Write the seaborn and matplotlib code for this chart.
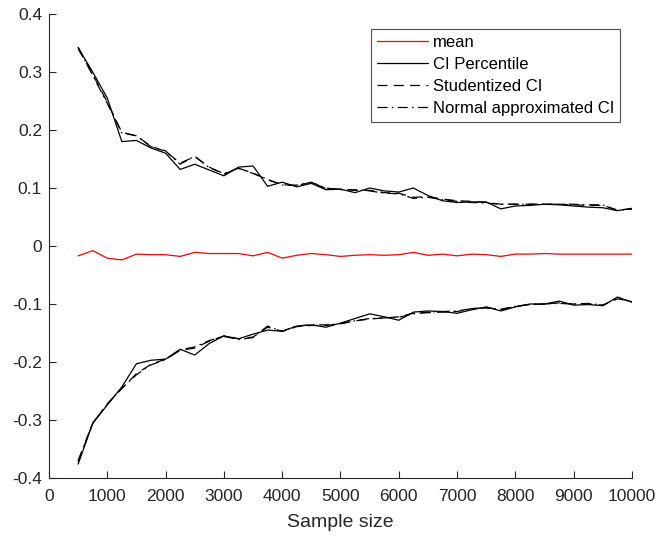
import numpy as np
import pandas as pd
import matplotlib
matplotlib.use("Agg")
import matplotlib.pyplot as plt
import seaborn as sns

sample_size = list(range(500, 10001, 250))

mean_vals = [-0.017, -0.008, -0.021, -0.024, -0.014, -0.015, -0.015, -0.018, -0.011, -0.013,
             -0.013, -0.013, -0.017, -0.011, -0.021, -0.016, -0.013, -0.015, -0.018, -0.016,
             -0.015, -0.016, -0.015, -0.011, -0.016, -0.014, -0.017, -0.014, -0.015, -0.018,
             -0.014, -0.014, -0.013, -0.014, -0.014, -0.014, -0.014, -0.014, -0.014]

pct_upper = [0.342, 0.300, 0.255, 0.180, 0.182, 0.169, 0.160, 0.132, 0.141, 0.131,
             0.121, 0.136, 0.138, 0.103, 0.110, 0.102, 0.108, 0.097, 0.098, 0.092,
             0.100, 0.095, 0.093, 0.100, 0.087, 0.078, 0.075, 0.076, 0.076, 0.064,
             0.069, 0.070, 0.072, 0.071, 0.069, 0.067, 0.066, 0.061, 0.065]
pct_lower = [-0.376, -0.306, -0.274, -0.243, -0.203, -0.197, -0.195, -0.178, -0.188, -0.168,
             -0.155, -0.160, -0.152, -0.145, -0.147, -0.138, -0.136, -0.140, -0.133, -0.125,
             -0.117, -0.122, -0.128, -0.114, -0.112, -0.113, -0.116, -0.110, -0.105, -0.112,
             -0.105, -0.100, -0.100, -0.095, -0.102, -0.101, -0.103, -0.088, -0.097]

stud_upper = [0.340, 0.296, 0.248, 0.196, 0.190, 0.172, 0.163, 0.143, 0.154, 0.136,
              0.124, 0.134, 0.126, 0.114, 0.106, 0.104, 0.110, 0.099, 0.098, 0.096,
              0.096, 0.092, 0.091, 0.084, 0.085, 0.081, 0.078, 0.077, 0.075, 0.072,
              0.072, 0.072, 0.072, 0.072, 0.071, 0.070, 0.070, 0.062, 0.064]
stud_lower = [-0.372, -0.306, -0.272, -0.246, -0.220, -0.204, -0.195, -0.180, -0.176, -0.164,
              -0.155, -0.160, -0.157, -0.140, -0.147, -0.139, -0.137, -0.137, -0.134, -0.129,
              -0.126, -0.124, -0.122, -0.116, -0.115, -0.114, -0.113, -0.108, -0.106, -0.110,
              -0.104, -0.101, -0.100, -0.098, -0.100, -0.100, -0.102, -0.091, -0.096]

norm_upper = [0.343, 0.294, 0.246, 0.195, 0.190, 0.171, 0.164, 0.141, 0.155, 0.135,
              0.125, 0.134, 0.125, 0.115, 0.105, 0.105, 0.110, 0.100, 0.097, 0.097,
              0.095, 0.091, 0.090, 0.082, 0.084, 0.080, 0.077, 0.075, 0.074, 0.072,
              0.072, 0.072, 0.072, 0.072, 0.072, 0.071, 0.071, 0.061, 0.064]
norm_lower = [-0.370, -0.305, -0.273, -0.245, -0.222, -0.205, -0.196, -0.179, -0.174, -0.163,
              -0.156, -0.161, -0.158, -0.138, -0.147, -0.138, -0.136, -0.136, -0.134, -0.129,
              -0.125, -0.124, -0.123, -0.117, -0.114, -0.113, -0.112, -0.108, -0.107, -0.109,
              -0.104, -0.101, -0.100, -0.099, -0.100, -0.099, -0.102, -0.090, -0.096]

sns.set_theme(style="white")
plt.rcParams['font.family'] = ['Liberation Sans', 'DejaVu Sans']

fig = plt.figure(figsize=(6.6, 5.39), dpi=100)
ax = fig.add_axes([0.0742, 0.1132, 0.8834, 0.8608])

lw = 0.9
dash = (0, (8, 5))
dashdot = (0, (8, 3.5, 1.2, 3.5))
x = np.array(sample_size)
sns.lineplot(x=x, y=mean_vals, ax=ax, color='#ff0000', lw=lw, label='mean')
sns.lineplot(x=x, y=pct_upper, ax=ax, color='black', lw=lw, label='CI Percentile')
sns.lineplot(x=x, y=stud_upper, ax=ax, color='black', lw=lw,
             linestyle=dash, label='Studentized CI')
sns.lineplot(x=x, y=norm_upper, ax=ax, color='black', lw=lw,
             linestyle=dashdot, label='Normal approximated CI')
sns.lineplot(x=x, y=pct_lower, ax=ax, color='black', lw=lw)
sns.lineplot(x=x, y=stud_lower, ax=ax, color='black', lw=lw, linestyle=dash)
sns.lineplot(x=x, y=norm_lower, ax=ax, color='black', lw=lw, linestyle=dashdot)

ax.set_xlim(0, 10000)
ax.set_ylim(-0.4, 0.4)
ax.set_xticks(range(0, 10001, 1000))
ax.set_yticks(np.round(np.arange(-0.4, 0.41, 0.1), 1))
ax.set_yticklabels(['-0.4', '-0.3', '-0.2', '-0.1', '0', '0.1', '0.2', '0.3', '0.4'])
ax.set_xlabel('Sample size', fontsize=14, color='#262626', labelpad=7)
ax.set_ylabel('')

for s in ['top', 'right']:
    ax.spines[s].set_visible(False)
for s in ['left', 'bottom']:
    ax.spines[s].set_color('#262626')
    ax.spines[s].set_linewidth(0.8)
ax.tick_params(direction='in', length=5, width=0.8, colors='#262626',
               labelsize=12.5, left=True, bottom=True, pad=5)
ax.tick_params(axis='x', pad=8)

leg = ax.legend(loc='upper right', bbox_to_anchor=(0.979, 0.968), fontsize=12,
                frameon=True, fancybox=False, handlelength=3.1, handletextpad=0.25,
                borderpad=0.35, labelspacing=0.42, borderaxespad=0)
leg.get_frame().set_edgecolor('#262626')
leg.get_frame().set_linewidth(0.8)
for t in leg.get_texts():
    t.set_color('black')

fig.savefig('out.png', dpi=100)
